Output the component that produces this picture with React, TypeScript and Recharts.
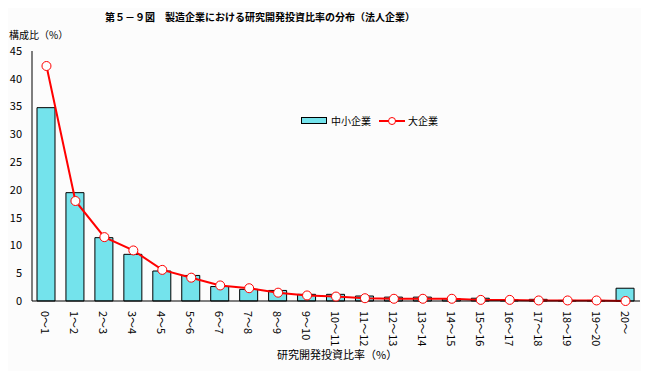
import {
  Bar,
  ComposedChart,
  Line,
  XAxis,
  YAxis,
} from 'recharts';

const categories = [
  '0～1', '1～2', '2～3', '3～4', '4～5', '5～6', '6～7', '7～8', '8～9', '9～10',
  '10～11', '11～12', '12～13', '13～14', '14～15', '15～16', '16～17', '17～18',
  '18～19', '19～20', '20～',
];
const smallFirms = [
  34.8, 19.5, 11.4, 8.4, 5.4, 4.6, 2.6, 2.1, 1.9, 1.2,
  1.2, 0.9, 0.7, 0.7, 0.4, 0.5, 0.2, 0.3, 0.1, 0.1, 2.3,
];
const largeFirms = [
  42.3, 18.0, 11.5, 9.1, 5.6, 4.2, 2.8, 2.3, 1.5, 1.0,
  0.8, 0.5, 0.4, 0.4, 0.4, 0.2, 0.2, 0.1, 0.1, 0.1, 0,
];
const yTicks = [0, 5, 10, 15, 20, 25, 30, 35, 40, 45];

const data = categories.map((c, i) => ({
  range: c,
  small: smallFirms[i],
  large: largeFirms[i],
}));

const FONT = '"Noto Sans CJK JP", "Noto Sans", sans-serif';
const CYAN = '#74e3ec';

function VerticalTick(props: any) {
  const { x, y, payload } = props;
  return (
    <text
      x={x}
      y={y}
      transform={`rotate(90 ${x} ${y})`}
      textAnchor="start"
      dominantBaseline="central"
      fontSize={11}
      fontFamily={FONT}
      fill="#000"
    >
      {payload.value}
    </text>
  );
}

function LegendBox() {
  return (
    <div style={{ position: 'absolute', left: 301, top: 113, display: 'flex', alignItems: 'center', fontSize: 10, color: '#000' }}>
      <span style={{ display: 'inline-block', width: 24, height: 5, background: CYAN, border: '1px solid #000', marginRight: 4 }} />
      <span style={{ marginRight: 8 }}>中小企業</span>
      <svg width={26} height={10} style={{ marginRight: 3 }}>
        <line x1={0} y1={5} x2={26} y2={5} stroke="#ff0000" strokeWidth={2} />
        <circle cx={13} cy={5} r={3.5} fill="#fff" stroke="#ff0000" strokeWidth={1} />
      </svg>
      <span>大企業</span>
    </div>
  );
}

export default function App() {
  return (
    <div style={{ position: 'relative', width: 649, height: 379, background: '#fcfcfc', margin: -8, fontFamily: FONT }}>
      <div style={{ position: 'absolute', left: 0, width: 520, top: 9, textAlign: 'center', fontSize: 10, fontWeight: 'bold' }}>
        第５－９図　製造企業における研究開発投資比率の分布（法人企業）
      </div>
      <div style={{ position: 'absolute', left: 9, top: 27, fontSize: 10 }}>構成比（%）</div>
      <div style={{ position: 'absolute', left: 277, top: 346, fontSize: 11 }}>研究開発投資比率（%）</div>
      <LegendBox />
      <ComposedChart
        width={649}
        height={379}
        data={data}
        margin={{ top: 51, right: 9, left: 0, bottom: 18 }}
        barSize={18}
      >
        <XAxis
          dataKey="range"
          interval={0}
          height={60}
          tick={<VerticalTick />}
          tickLine={false}
          axisLine={{ stroke: '#000' }}
          tickMargin={4}
        />
        <YAxis
          width={32}
          domain={[0, 45]}
          ticks={yTicks}
          tickLine={false}
          tickSize={6}
          tickMargin={4}
          axisLine={{ stroke: '#000' }}
          tick={{ fontSize: 11, fill: '#000', fontFamily: FONT }}
        />
        <Bar dataKey="small" name="中小企業" fill={CYAN} stroke="#000" strokeWidth={1} isAnimationActive={false} />
        <Line
          type="linear"
          dataKey="large"
          name="大企業"
          stroke="#ff0000"
          strokeWidth={2}
          dot={{ r: 4.5, fill: '#fff', stroke: '#ff0000', strokeWidth: 1 }}
          isAnimationActive={false}
        />
      </ComposedChart>
    </div>
  );
}
